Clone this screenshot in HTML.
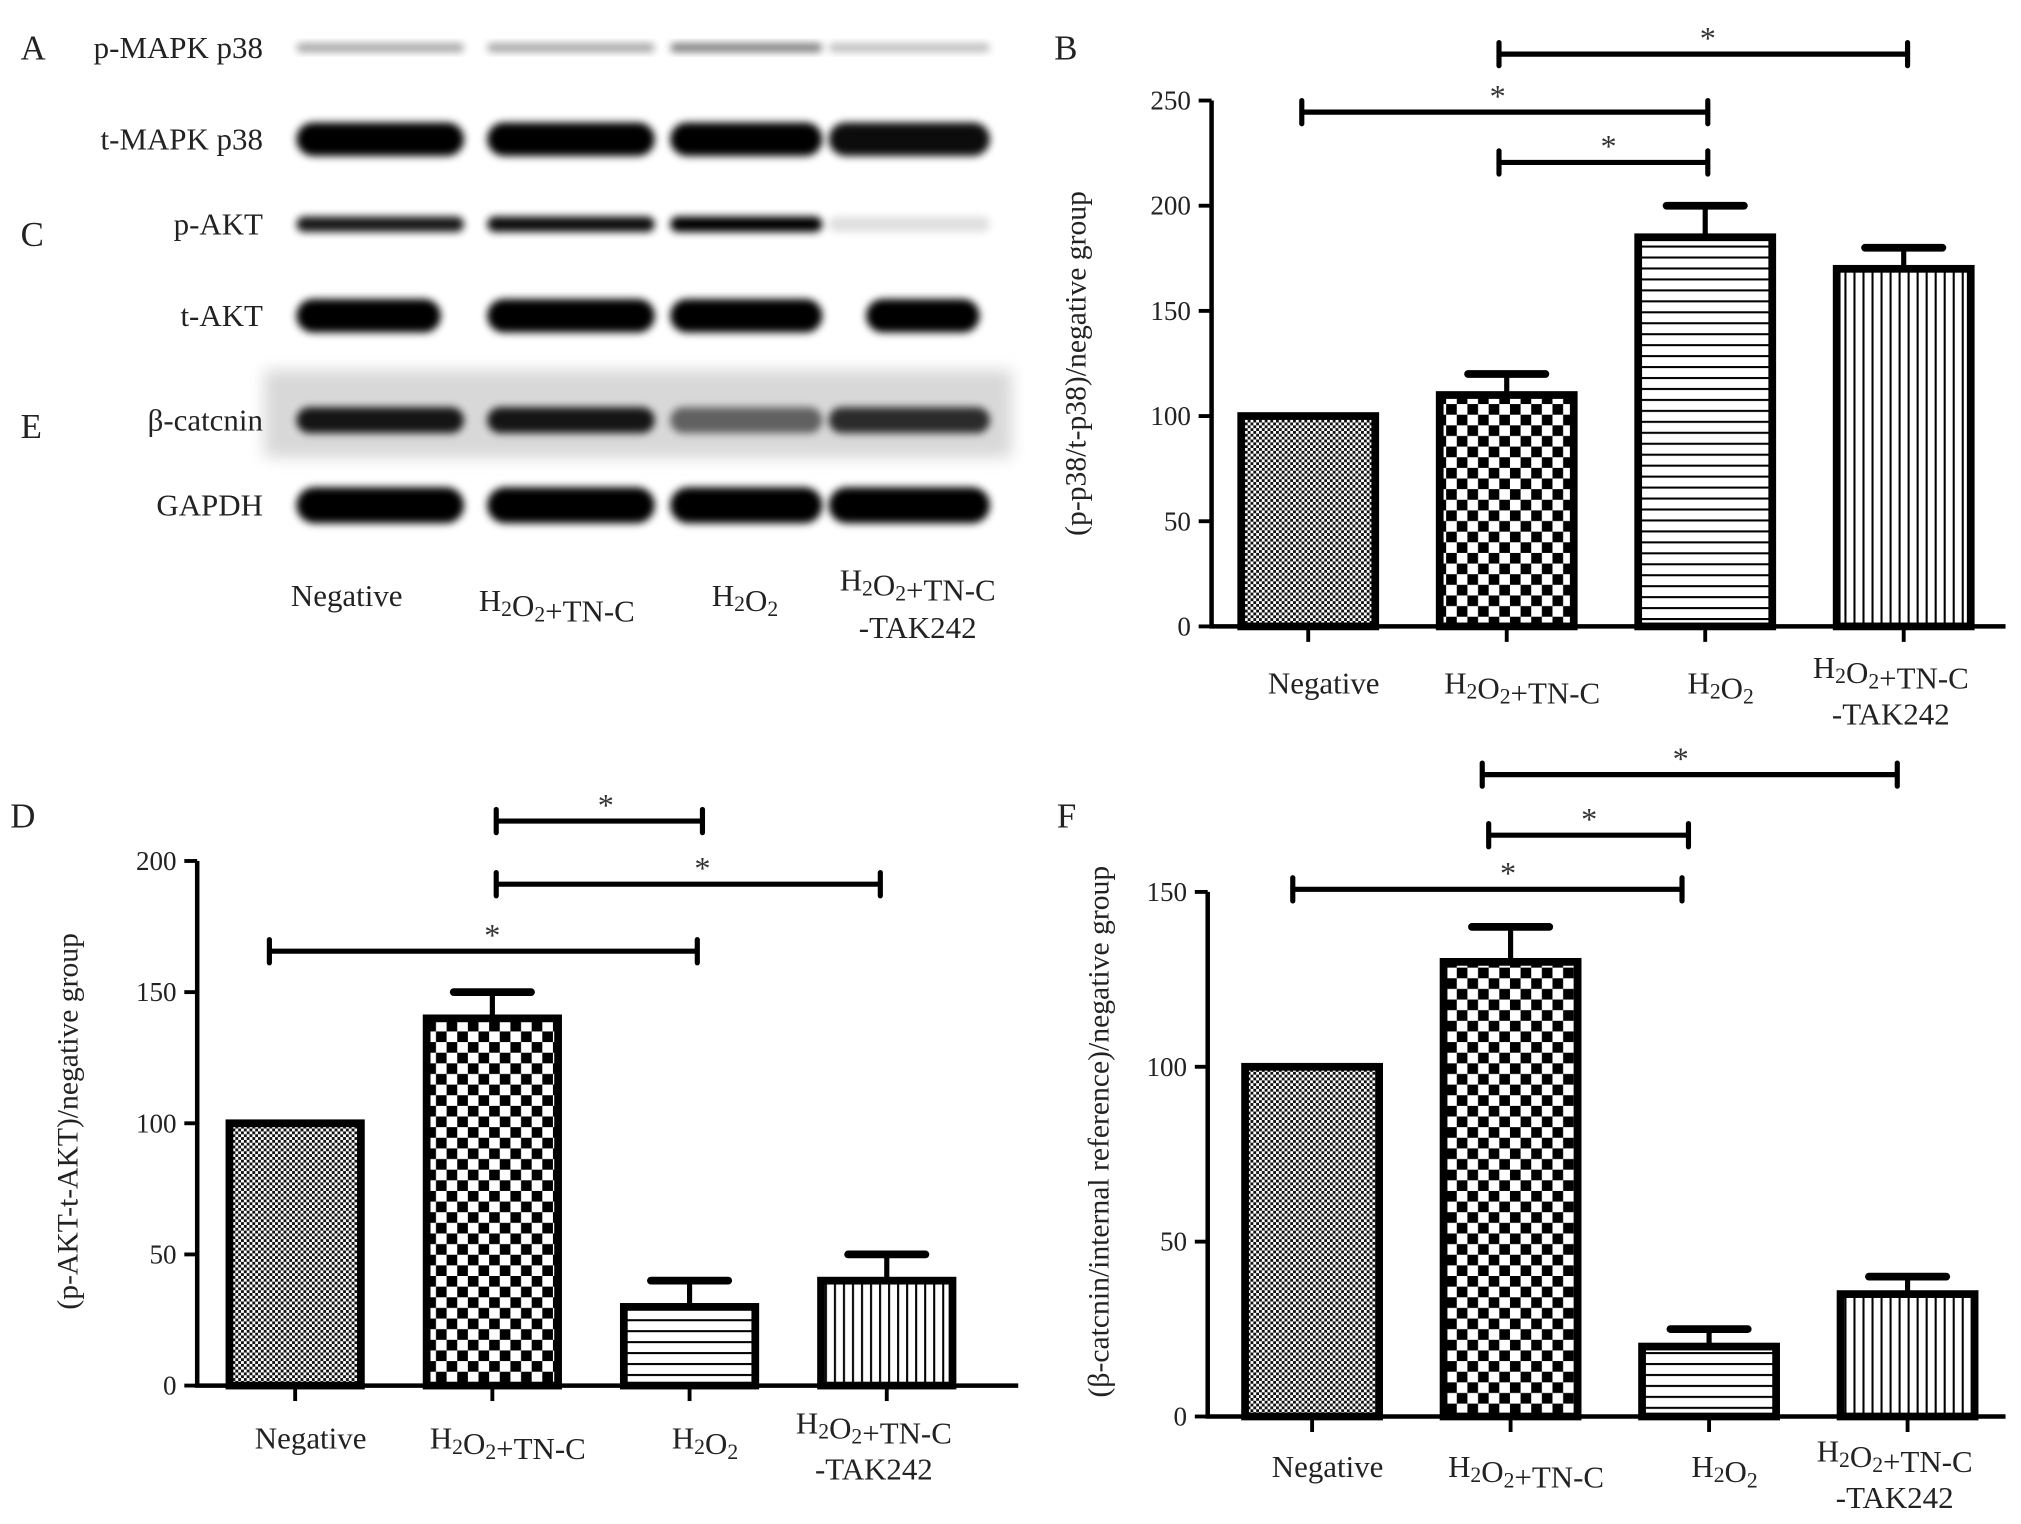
<!DOCTYPE html>
<html><head><meta charset="utf-8"><style>
html,body{margin:0;padding:0;background:#fff;}
svg{display:block;font-family:"Liberation Serif",serif;}
</style></head><body>
<svg id="fig" width="2021" height="1524" viewBox="0 0 1568 1182.4" preserveAspectRatio="none" xmlns="http://www.w3.org/2000/svg">
<defs>
<pattern id="pFine" width="4.4" height="4.4" patternUnits="userSpaceOnUse"><rect width="4.4" height="4.4" fill="#fff"/><rect width="2.2" height="2.2" fill="#111"/><rect x="2.2" y="2.2" width="2.2" height="2.2" fill="#111"/></pattern>
<pattern id="pCheck" width="16.5" height="16.5" patternUnits="userSpaceOnUse"><rect width="16.5" height="16.5" fill="#fff"/><rect width="8.25" height="8.25" fill="#000"/><rect x="8.25" y="8.25" width="8.25" height="8.25" fill="#000"/></pattern>
<pattern id="pHoriz" width="10" height="8.5" patternUnits="userSpaceOnUse"><rect width="10" height="8.5" fill="#fff"/><rect y="3.5" width="10" height="1.6" fill="#000"/></pattern>
<pattern id="pVert" width="7" height="10" patternUnits="userSpaceOnUse"><rect width="7" height="10" fill="#fff"/><rect x="3" width="1.6" height="10" fill="#000"/></pattern>
<filter id="blur" x="-20%" y="-50%" width="140%" height="200%"><feGaussianBlur stdDeviation="3"/></filter>
<filter id="blur2" x="-20%" y="-50%" width="140%" height="200%"><feGaussianBlur stdDeviation="6"/></filter>
</defs>
<g id="blot"></g>
<g id="panelB"></g>
<g id="panelD"></g>
<g id="panelF"></g>
</svg>
<script>
const categories = ["Negative", "H2O2+TN-C", "H2O2", "H2O2+TN-C-TAK242"];
const valuesB = [100, 110, 185, 170];
const errorsB = [0, 10, 15, 10];
const ticksB = [0, 50, 100, 150, 200, 250];
const valuesD = [100, 140, 30, 40];
const errorsD = [0, 10, 10, 10];
const ticksD = [0, 50, 100, 150, 200];
const valuesF = [100, 130, 20, 35];
const errorsF = [0, 10, 5, 5];
const ticksF = [0, 50, 100, 150];
const fills = ["url(#pFine)", "url(#pCheck)", "url(#pHoriz)", "url(#pVert)"];

const NS = "http://www.w3.org/2000/svg";
function mk(parent, tag, attrs, text) {
  const e = document.createElementNS(NS, tag);
  for (const k in attrs) e.setAttribute(k, attrs[k]);
  if (text !== undefined) e.textContent = text;
  parent.appendChild(e);
  return e;
}
function catLabel(g, name, x, y, size) {
  const parts = name === "Negative" ? [["Negative", 0]] :
    name === "H2O2" ? [["H", 0], ["2", 1], ["O", 0], ["2", 1]] :
    [["H", 0], ["2", 1], ["O", 0], ["2", 1], ["+TN-C", 0]];
  const t = mk(g, "text", {x: x, y: y, "text-anchor": "middle", "font-size": size, fill: "#222"});
  
  
  parts.forEach(p => {
    mk(t, "tspan", p[1] ? {"font-size": size * 0.7, dy: 4} : {dy: 0}, p[0]);
    if (p[1]) mk(t, "tspan", {dy: -4}, "");
  });
  return t;
}
function sigBar(g, x1, x2, y, starX) {
  const b = mk(g, "g", {});
  
  
  mk(b, "line", {x1: x1, x2: x2, y1: y, y2: y, stroke: "#000", "stroke-width": 4});
  mk(b, "line", {x1: x1, x2: x1, y1: y - 9, y2: y + 9, stroke: "#000", "stroke-width": 4, "stroke-linecap": "round"});
  mk(b, "line", {x1: x2, x2: x2, y1: y - 9, y2: y + 9, stroke: "#000", "stroke-width": 4, "stroke-linecap": "round"});
  mk(b, "text", {x: starX, y: y - 4, "text-anchor": "middle", "font-size": 25, fill: "#333"}, "*");
}
function panel(cfg) {
  const g = document.getElementById(cfg.id);
  const yv = v => cfg.y0 - v * (cfg.y0 - cfg.yTop) / cfg.yMax;
  const xc = i => cfg.x0 + i * cfg.step;
  const ax = mk(g, "path", {d: `M${cfg.ax},${cfg.yTop} L${cfg.ax},${cfg.y0} L${cfg.xEnd},${cfg.y0}`, fill: "none", stroke: "#000", "stroke-width": 3.5});
  
  
  cfg.ticks.forEach(t => {
    const y = yv(t);
    mk(g, "line", {x1: cfg.ax - 10, x2: cfg.ax, y1: y, y2: y, stroke: "#000", "stroke-width": 3});
    const tl = mk(g, "text", {x: cfg.ax - 16, y: y + 7, "text-anchor": "end", "font-size": 21, fill: "#222"}, String(t));
    
    
  });
  cfg.values.forEach((v, i) => {
    const x = xc(i), w = cfg.bw;
    mk(g, "line", {x1: x, x2: x, y1: cfg.y0, y2: cfg.y0 + 12, stroke: "#000", "stroke-width": 3});
    if (cfg.errors[i] > 0) {
      const ye = yv(v + cfg.errors[i]);
      mk(g, "line", {x1: x, x2: x, y1: yv(v), y2: ye, stroke: "#000", "stroke-width": 4});
      mk(g, "line", {x1: x - 30, x2: x + 30, y1: ye, y2: ye, stroke: "#000", "stroke-width": 6, "stroke-linecap": "round"});
    }
    const r = mk(g, "rect", {x: x - w / 2, y: yv(v), width: w, height: cfg.y0 - yv(v), fill: fills[i], stroke: "#000", "stroke-width": 6});
    
    
    const lx = x + (i === 3 ? -10 : 12);
    if (i === 3) {
      catLabel(g, "H2O2+TN-C", lx, cfg.labY - 12, 24);
      const t2 = mk(g, "text", {x: lx, y: cfg.labY + 24, "text-anchor": "middle", "font-size": 24, fill: "#222"}, "-TAK242");
      
      
    } else catLabel(g, categories[i], lx, cfg.labY, 24);
  });
  cfg.sig.forEach(s => sigBar(g, s[0], s[1], s[2], s[3]));
  const yt = mk(g, "text", {transform: `translate(${cfg.titleX},${cfg.titleY}) rotate(-90)`, "text-anchor": "middle", "font-size": 23, fill: "#222"}, cfg.title);
  
  
  const L = mk(g, "text", {x: cfg.letter[1], y: cfg.letter[2], "font-size": 27, fill: "#222"}, cfg.letter[0]);
  
  
}
panel({id: "panelB", values: valuesB, errors: errorsB, ticks: ticksB, yMax: 250, y0: 486, yTop: 78, ax: 940, xEnd: 1556,
  x0: 1015, step: 154, bw: 104, labY: 538,
  sig: [[1163, 1480, 42, 1325], [1010, 1325, 87, 1162], [1163, 1325, 126, 1248]],
  title: "(p-p38/t-p38)/negative group", titleX: 842, titleY: 282, letter: ["B", 818, 46]});
panel({id: "panelD", values: valuesD, errors: errorsD, ticks: ticksD, yMax: 200, y0: 1075, yTop: 668, ax: 153, xEnd: 790,
  x0: 229, step: 153, bw: 102, labY: 1124,
  sig: [[385, 545, 637, 470], [385, 683, 686, 545], [209, 541, 738, 382]],
  title: "(p-AKT-t-AKT)/negative group", titleX: 60, titleY: 870, letter: ["D", 8, 642]});
panel({id: "panelF", values: valuesF, errors: errorsF, ticks: ticksF, yMax: 150, y0: 1099, yTop: 692, ax: 937, xEnd: 1556,
  x0: 1018, step: 154, bw: 104, labY: 1146,
  sig: [[1150, 1472, 601, 1304], [1155, 1310, 648, 1233], [1003, 1305, 690, 1170]],
  title: "(β-catcnin/internal reference)/negative group", titleX: 860, titleY: 878, letter: ["F", 820, 642]});

const blotRows = ["p-MAPK p38", "t-MAPK p38", "p-AKT", "t-AKT", "β-catcnin", "GAPDH"];
const rowY = [37, 108, 174, 245, 326, 392];
const rowH = [7, 26, 12, 26, 20, 28];
const intensity = [[0.35, 0.35, 0.5, 0.25], [1, 1, 1, 0.95], [0.9, 0.95, 1, 0.12], [1, 1, 1, 1], [0.9, 0.9, 0.55, 0.8], [1, 1, 1, 1]];
const laneX = [[230, 360], [378, 508], [520, 638], [643, 768]];
const bg = document.getElementById("blot");
mk(bg, "rect", {x: 205, y: 287, width: 580, height: 68, fill: "#d8d8d8", filter: "url(#blur2)"});
blotRows.forEach((name, r) => {
  intensity[r].forEach((a, l) => {
    let [x1, x2] = laneX[l];
    if (r === 3 && l === 0) x2 = 342;
    if (r === 3 && l === 3) { x1 = 672; x2 = 760; }
    const band = mk(bg, "rect", {x: x1, y: rowY[r] - rowH[r] / 2, width: x2 - x1, height: rowH[r], rx: rowH[r] / 2, fill: "#000", opacity: a, filter: "url(#blur)"});
    
    
  });
  const t = mk(bg, "text", {x: 204, y: rowY[r] + 8, "text-anchor": "end", "font-size": 24, fill: "#222"}, name);
  
  
});
[["A", 37], ["C", 182], ["E", 331]].forEach(p => {
  const t = mk(bg, "text", {x: 16, y: p[1] + 9, "font-size": 27, fill: "#222"}, p[0]);
  
  
});
catLabel(bg, "Negative", 269, 470, 24);
catLabel(bg, "H2O2+TN-C", 432, 474, 24);
catLabel(bg, "H2O2", 578, 470, 24);
catLabel(bg, "H2O2+TN-C", 712, 458, 24);
const tk = mk(bg, "text", {x: 712, y: 495, "text-anchor": "middle", "font-size": 24, fill: "#222"}, "-TAK242");


</script>
</body></html>
